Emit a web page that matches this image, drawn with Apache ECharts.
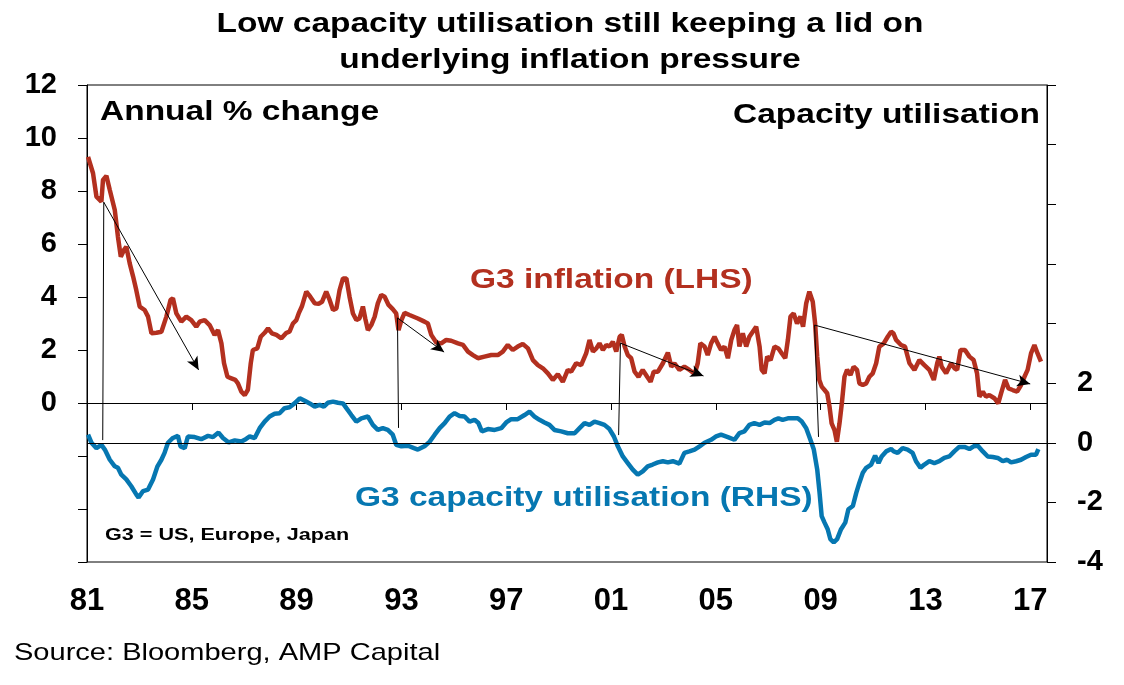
<!DOCTYPE html>
<html>
<head>
<meta charset="utf-8">
<script src="https://cdn.jsdelivr.net/npm/echarts@6/dist/echarts.min.js"></script>
<style>
  html, body { margin: 0; padding: 0; background: #fff; }
  #chart { width: 1124px; height: 685px; }
</style>
</head>
<body>
<div id="chart"></div>
<script>
// x values are years since Jan 1981 (axis ticks every 4 years: 81, 85 ... 17)
const BASE_YEAR = 1981;
const xTickYears = ['81', '85', '89', '93', '97', '01', '05', '09', '13', '17'];

// G3 inflation, annual % change (LHS)
const inflYr = [0.04,0.23,0.36,0.55,0.61,0.74,0.87,1.06,1.18,1.29,1.41,1.50,1.63,1.76,1.88,2.01,2.20,2.33,2.46,2.65,
  2.84,3.03,3.19,3.28,3.41,3.60,3.79,3.98,4.17,4.30,4.49,4.68,4.87,5.00,5.13,5.23,5.36,5.51,5.66,5.76,
  5.89,6.02,6.14,6.25,6.33,6.50,6.63,6.78,6.91,7.06,7.23,7.42,7.61,7.73,7.86,7.99,8.08,8.20,8.37,8.52,
  8.69,8.84,8.97,9.13,9.26,9.39,9.52,9.64,9.77,9.90,10.02,10.15,10.28,10.40,10.53,10.62,10.72,10.85,10.98,11.10,
  11.23,11.36,11.51,11.67,11.80,11.89,12.00,12.12,12.31,12.63,12.88,13.01,13.14,13.33,13.52,13.71,13.90,14.16,14.35,14.54,
  14.73,14.92,15.17,15.43,15.68,15.87,16.06,16.25,16.44,16.63,16.83,17.02,17.21,17.40,17.59,17.78,17.97,18.16,18.35,18.48,
  18.67,18.86,19.05,19.18,19.31,19.44,19.56,19.69,19.82,19.94,20.07,20.20,20.33,20.41,20.52,20.64,20.77,20.90,21.05,21.21,
  21.38,21.51,21.63,21.79,21.98,22.17,22.30,22.42,22.61,22.80,22.99,23.19,23.31,23.41,23.57,23.69,23.82,23.95,24.07,24.20,
  24.33,24.46,24.59,24.71,24.81,24.90,25.03,25.16,25.28,25.41,25.54,25.67,25.75,25.86,25.96,26.09,26.24,26.39,26.52,26.65,
  26.75,26.85,26.97,27.10,27.23,27.33,27.45,27.57,27.70,27.79,27.87,27.95,28.04,28.15,28.25,28.34,28.42,28.53,28.62,28.72,
  28.81,28.91,29.01,29.14,29.26,29.39,29.48,29.61,29.74,29.86,29.99,30.12,30.24,30.41,30.56,30.69,30.78,30.88,31.07,31.22,
  31.39,31.58,31.77,31.96,32.15,32.32,32.45,32.53,32.62,32.79,32.98,33.11,33.21,33.34,33.51,33.68,33.84,33.97,34.06,34.19,
  34.31,34.44,34.63,34.78,34.89,35.04,35.17,35.33,35.50,35.65,35.78,35.90,36.03,36.16,36.28,36.41];
const inflVal = [9.29,8.67,7.79,7.60,8.42,8.57,8.04,7.28,6.28,5.52,5.77,5.90,5.27,4.77,4.26,3.64,3.51,3.26,2.63,2.65,
  2.69,3.26,3.89,3.95,3.38,3.07,3.26,3.13,2.88,3.07,3.13,2.94,2.57,2.75,2.25,1.50,0.99,0.93,0.87,0.74,
  0.43,0.30,0.50,1.50,2.00,2.06,2.50,2.65,2.82,2.63,2.57,2.44,2.65,2.69,3.00,3.13,3.38,3.64,4.20,4.01,
  3.76,3.74,3.82,4.20,3.89,3.51,3.57,4.26,4.70,4.70,4.01,3.38,3.13,3.19,3.64,3.19,2.75,2.94,3.26,3.76,
  4.08,4.01,3.70,3.54,3.38,2.75,3.13,3.40,3.32,3.19,3.07,3.00,2.57,2.28,2.25,2.38,2.35,2.25,2.19,1.94,
  1.81,1.69,1.75,1.81,1.81,1.94,2.19,2.00,2.13,2.23,2.06,1.62,1.43,1.31,1.12,0.87,1.09,0.80,1.25,1.18,
  1.50,1.43,1.87,2.38,1.94,2.06,2.25,2.00,2.19,2.13,2.31,1.94,2.50,2.57,2.13,1.81,1.69,1.18,0.99,1.25,
  0.99,0.80,1.18,1.18,1.50,1.90,1.37,1.50,1.25,1.37,1.25,1.09,1.50,2.25,2.13,1.81,2.25,2.50,2.25,2.00,
  2.13,1.69,2.38,2.75,2.94,2.13,2.63,2.13,2.50,2.69,2.88,2.13,1.25,1.12,1.75,1.62,2.13,2.06,1.87,1.69,
  2.38,3.26,3.38,3.00,3.26,2.88,3.76,4.20,3.82,3.00,1.75,0.87,0.62,0.49,0.37,-0.14,-0.77,-1.02,-1.46,-0.77,
  -0.01,0.99,1.25,1.06,1.37,1.25,0.74,0.68,0.74,0.99,1.12,1.50,2.13,2.25,2.50,2.69,2.63,2.38,2.19,2.13,
  1.50,1.25,1.62,1.43,1.25,0.87,1.50,1.75,1.37,1.12,1.50,1.31,1.25,2.00,2.00,1.75,1.62,1.12,0.24,0.43,
  0.24,0.30,0.18,-0.01,0.37,0.87,0.55,0.49,0.43,0.68,0.99,1.25,1.87,2.19,1.87,1.56];

// G3 capacity utilisation, deviation (RHS)
const capYr = [0.04,0.17,0.36,0.55,0.68,0.87,1.06,1.18,1.31,1.50,1.69,1.88,1.97,2.14,2.33,2.52,2.69,2.84,2.96,3.09,
  3.28,3.47,3.57,3.73,3.85,4.11,4.36,4.62,4.81,5.02,5.19,5.41,5.64,5.89,6.02,6.21,6.40,6.59,6.78,6.97,
  7.16,7.35,7.54,7.73,7.92,8.12,8.31,8.50,8.69,8.88,9.04,9.19,9.39,9.58,9.77,9.90,10.09,10.28,10.47,10.72,
  10.91,11.10,11.29,11.48,11.67,11.80,12.00,12.25,12.48,12.63,12.88,13.08,13.27,13.46,13.65,13.84,14.03,14.22,14.41,14.60,
  14.79,14.94,15.07,15.30,15.56,15.81,16.00,16.19,16.44,16.70,16.89,17.08,17.27,17.46,17.65,17.84,18.10,18.35,18.61,18.80,
  18.99,19.18,19.37,19.56,19.75,19.94,20.11,20.26,20.45,20.64,20.83,21.02,21.21,21.40,21.59,21.79,21.98,22.17,22.36,22.61,
  22.80,22.99,23.19,23.38,23.57,23.82,24.01,24.20,24.46,24.71,24.90,25.09,25.28,25.47,25.67,25.86,26.05,26.24,26.39,26.55,
  26.75,26.94,27.13,27.28,27.45,27.61,27.74,27.87,27.96,28.04,28.15,28.27,28.37,28.50,28.63,28.78,28.94,29.06,29.23,29.36,
  29.48,29.61,29.74,29.93,30.08,30.21,30.33,30.50,30.69,30.79,30.94,31.13,31.32,31.51,31.64,31.81,31.96,32.15,32.34,32.53,
  32.72,32.91,33.10,33.29,33.49,33.68,33.84,34.00,34.19,34.38,34.57,34.76,34.95,35.12,35.27,35.46,35.65,35.84,36.03,36.22,
  36.31];
const capVal = [0.27,0.00,-0.18,-0.07,-0.23,-0.57,-0.79,-0.84,-1.07,-1.23,-1.46,-1.73,-1.84,-1.62,-1.57,-1.23,-0.79,-0.57,-0.34,0.00,
  0.16,0.23,-0.12,-0.18,0.21,0.19,0.12,0.23,0.19,0.34,0.16,0.01,0.08,0.04,0.10,0.21,0.16,0.49,0.71,0.88,
  0.97,0.99,1.16,1.19,1.32,1.49,1.41,1.32,1.21,1.27,1.21,1.34,1.38,1.34,1.32,1.16,0.93,0.71,0.82,0.88,
  0.60,0.43,0.49,0.43,0.27,-0.07,-0.12,-0.10,-0.18,-0.23,-0.12,0.04,0.27,0.49,0.66,0.88,0.99,0.90,0.88,0.71,
  0.77,0.66,0.38,0.46,0.43,0.49,0.68,0.79,0.79,0.93,1.04,0.88,0.77,0.68,0.60,0.43,0.38,0.32,0.32,0.49,
  0.66,0.60,0.71,0.66,0.60,0.46,0.21,-0.12,-0.46,-0.68,-0.90,-1.07,-0.96,-0.79,-0.73,-0.66,-0.62,-0.66,-0.62,-0.70,
  -0.34,-0.29,-0.23,-0.12,0.00,0.10,0.21,0.27,0.19,0.10,0.32,0.38,0.60,0.66,0.60,0.68,0.66,0.77,0.82,0.77,
  0.82,0.82,0.82,0.71,0.49,0.10,-0.23,-0.90,-1.68,-2.46,-2.68,-2.90,-3.23,-3.34,-3.23,-2.90,-2.68,-2.23,-2.12,-1.68,
  -1.34,-1.01,-0.84,-0.73,-0.43,-0.68,-0.46,-0.29,-0.21,-0.29,-0.34,-0.18,-0.23,-0.34,-0.62,-0.84,-0.73,-0.62,-0.68,-0.62,
  -0.51,-0.46,-0.29,-0.14,-0.14,-0.21,-0.12,-0.10,-0.29,-0.46,-0.48,-0.51,-0.62,-0.57,-0.66,-0.62,-0.57,-0.48,-0.40,-0.40,
  -0.21];

// annotation arrows, [years since 1981, LHS value]
const arrowLines = [
  [[0.64, 7.58], [4.26, 1.25]],
  [[11.85, 3.21], [13.63, 1.92]],
  [[20.36, 2.26], [23.53, 1.02]],
  [[27.77, 2.94], [36.00, 0.72]]
];
const dropLines = [
  [[0.64, 7.58], [0.60, -1.40]],
  [[11.85, 3.21], [11.89, -0.94]],
  [[20.36, 2.26], [20.29, -1.21]],
  [[27.77, 2.94], [27.92, -1.28]]
];

const FONT = 'Arial, "Liberation Sans", sans-serif';
const RED = '#b3301f';
const BLUE = '#0677b1';
// the original's text is set wide, so stretch it a little
const WIDE = 1.24;

const chart = echarts.init(document.getElementById('chart'));

const pairs = (xs, ys) => xs.map((x, i) => [x, ys[i]]);

function label(text, x, y, font, fill, align, scale) {
  return {
    type: 'text', x: x, y: y, scaleX: scale || WIDE, z: 10,
    style: { text: text, font: font, fill: fill, align: align || 'left', verticalAlign: 'middle' }
  };
}

chart.setOption({
  animation: false,
  grid: {
    left: 87, right: 77, top: 85, bottom: 123,
    show: true, borderColor: '#000', borderWidth: 1
  },
  xAxis: {
    type: 'value',
    min: 0,
    max: 36.64,
    interval: 4,
    axisLine: { show: true, lineStyle: { color: '#000', width: 1 } },
    axisTick: { show: true, inside: false, length: 7, lineStyle: { color: '#000' } },
    splitLine: { show: false },
    axisLabel: {
      margin: 24,
      color: '#000',
      fontFamily: FONT,
      fontSize: 31,
      fontWeight: 'bold',
      formatter: v => {
        const i = Math.round(v / 4);
        return xTickYears[i] !== undefined ? xTickYears[i] : '';
      }
    }
  },
  yAxis: [
    {
      type: 'value',
      position: 'left',
      min: -6, max: 12, interval: 2,
      axisLine: { show: true, lineStyle: { color: '#000' } },
      axisTick: { show: true, inside: false, length: 9, lineStyle: { color: '#000' } },
      splitLine: { show: false },
      axisLabel: {
        margin: 30, color: '#000', fontFamily: FONT, fontSize: 29, fontWeight: 'bold',
        formatter: v => (v >= 0 ? String(v) : '')
      }
    },
    {
      type: 'value',
      position: 'right',
      min: -4, max: 12, interval: 2,
      axisLine: { show: true, lineStyle: { color: '#000' } },
      axisTick: { show: true, inside: false, length: 9, lineStyle: { color: '#000' } },
      splitLine: { show: false },
      axisLabel: {
        margin: 30, color: '#000', fontFamily: FONT, fontSize: 29, fontWeight: 'bold',
        formatter: v => (v <= 2 ? String(v) : '')
      }
    }
  ],
  series: [
    {
      name: 'G3 capacity utilisation (RHS)',
      type: 'line',
      yAxisIndex: 1,
      data: pairs(capYr, capVal),
      showSymbol: false,
      lineStyle: { color: BLUE, width: 4.5 },
      z: 3,
      markLine: {
        silent: true,
        symbol: ['none', 'none'],
        label: { show: false },
        lineStyle: { color: '#000', width: 1.2, type: 'solid' },
        data: [{ yAxis: 0 }]
      }
    },
    {
      name: 'G3 inflation (LHS)',
      type: 'line',
      yAxisIndex: 0,
      data: pairs(inflYr, inflVal),
      showSymbol: false,
      lineStyle: { color: RED, width: 4.5 },
      z: 4,
      markLine: {
        silent: true,
        symbol: ['none', 'arrow'],
        symbolSize: [9, 13],
        label: { show: false },
        lineStyle: { color: '#000', width: 1, type: 'solid' },
        data: arrowLines.map(([a, b]) => [
          { coord: a },
          { coord: b }
        ]).concat(dropLines.map(([a, b]) => [
          { coord: a, symbol: 'none' },
          { coord: b, symbol: 'none' }
        ]))
      }
    }
  ],
  graphic: [
    label('Low capacity utilisation still keeping a lid on', 570, 25, 'bold 27px ' + FONT, '#000', 'center'),
    label('underlying inflation pressure', 570, 61, 'bold 27px ' + FONT, '#000', 'center'),
    label('Annual % change', 100, 113, 'bold 27px ' + FONT, '#000'),
    label('Capacity utilisation', 1040, 116, 'bold 27px ' + FONT, '#000', 'right'),
    label('G3 inflation (LHS)', 470, 281, 'bold 27px ' + FONT, RED),
    label('G3 capacity utilisation (RHS)', 355, 499, 'bold 27px ' + FONT, BLUE),
    label('G3 = US, Europe, Japan', 105, 535, 'bold 17px ' + FONT, '#000', 'left', 1.27),
    label('Source: Bloomberg, AMP Capital', 14, 653, '24px ' + FONT, '#000', 'left', 1.21)
  ]
});
</script>
</body>
</html>
